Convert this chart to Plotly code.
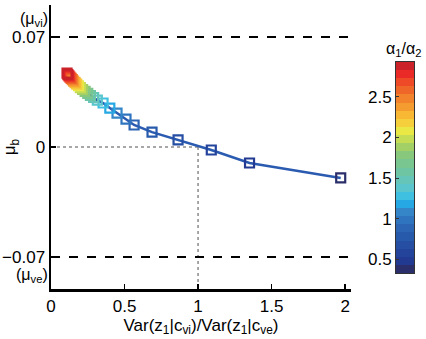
import plotly.graph_objects as go

# --- data ---
ratio = [0.35, 0.45, 0.55, 0.65, 0.75, 0.85, 0.95, 1.05, 1.15, 1.25,
         1.35, 1.45, 1.55, 1.65, 1.75, 1.85, 1.95, 2.05, 2.15, 2.25,
         2.35, 2.45, 2.55, 2.65, 2.75, 2.85, 2.9]
var_ratio = [1.97, 1.35, 1.09, 0.864, 0.687, 0.565, 0.51, 0.449, 0.40, 0.354,
             0.315, 0.29, 0.268, 0.25, 0.232, 0.215, 0.20, 0.187, 0.175, 0.164,
             0.154, 0.145, 0.137, 0.129, 0.122, 0.115, 0.109]
mu_b = [-0.0197, -0.0102, -0.0019, 0.0045, 0.0095, 0.0140, 0.0178, 0.0216, 0.0248, 0.0280,
        0.0298, 0.0315, 0.0328, 0.0342, 0.0354, 0.0366, 0.0378, 0.0390, 0.0400, 0.0410,
        0.0420, 0.0429, 0.0437, 0.0445, 0.0453, 0.0461, 0.0470]

mu_vi = 0.07
mu_ve = -0.07
x_ticks = [0, 0.5, 1, 1.5, 2]
x_ticktext = ["0", "0.5", "1", "1.5", "2"]
y_ticks = [-0.07, 0, 0.07]
y_ticktext = ["\u22120.07", "0", "0.07"]
cb_ticks = [0.5, 1, 1.5, 2, 2.5]
cb_ticktext = ["0.5", "1", "1.5", "2", "2.5"]

# discrete colour levels of the colorbar (bottom to top)
cb_min, cb_max = 0.33, 2.93
level_colors = ["#2a2e6a", "#233a92", "#24449b", "#264fa4", "#285aac", "#2b65b4",
                "#2f74bf", "#3486c9", "#25a8e3", "#40c0e0", "#5ac5cc", "#64c5b8",
                "#6ec5a4", "#7ac690", "#88c87c", "#a3d066", "#c5dc55", "#e9e845",
                "#f6cf3c", "#f8b834", "#f59c30", "#f2822c", "#ef6629", "#ee4a28",
                "#ea2a27", "#cb2128"]
n = len(level_colors)
colorscale = []
for i, c in enumerate(level_colors):
    colorscale.append([i / n, c])
    colorscale.append([(i + 1) / n, c])
step = (cb_max - cb_min) / n
level_centers = [cb_min + step * (i + 0.5) for i in range(n)]

FONT = "Liberation Sans, Arial, Helvetica, sans-serif"

fig = go.Figure()

# connecting line
fig.add_trace(go.Scatter(x=var_ratio, y=mu_b, mode="lines",
                         line=dict(color="#2a5bb0", width=2.5),
                         showlegend=False, hoverinfo="skip"))
# coloured markers
fig.add_trace(go.Scatter(x=var_ratio, y=mu_b, mode="markers",
                         marker=dict(symbol="square-open", size=9,
                                     color=ratio, colorscale=colorscale,
                                     cmin=cb_min, cmax=cb_max,
                                     line=dict(width=2.2)),
                         showlegend=False))

# colorbar drawn as heatmap on its own axes
fig.add_trace(go.Heatmap(z=[[v] for v in level_centers], y=level_centers, x=[0],
                         colorscale=colorscale, zmin=cb_min, zmax=cb_max,
                         showscale=False, xaxis="x2", yaxis="y2", hoverinfo="skip"))

# reference lines
for yv in (mu_vi, mu_ve):
    fig.add_shape(type="line", xref="x domain", yref="y", x0=0, x1=1, y0=yv, y1=yv,
                  line=dict(color="black", width=2, dash="dash"))
fig.add_shape(type="line", xref="x", yref="y", x0=0, x1=1, y0=0, y1=0,
              line=dict(color="#8a8a8a", width=1.5, dash="dot"), layer="below")
fig.add_shape(type="line", xref="x", yref="y", x0=1, x1=1, y0=0, y1=-0.0905,
              line=dict(color="#8a8a8a", width=1.5, dash="dot"), layer="below")

# (mu_vi) and (mu_ve) labels
fig.add_annotation(x=0, xref="x domain", xanchor="right", xshift=-2,
                   y=mu_vi, yref="y", yshift=18, text="(\u03bc<sub>vi</sub>)",
                   showarrow=False, font=dict(size=16), borderpad=0)
fig.add_annotation(x=0, xref="x domain", xanchor="right", xshift=-2,
                   y=mu_ve, yref="y", yshift=-19, text="(\u03bc<sub>ve</sub>)",
                   showarrow=False, font=dict(size=16), borderpad=0)
# colorbar title
fig.add_annotation(x=0.5, xref="x2 domain", xanchor="center", xshift=-2,
                   y=1, yref="y2 domain", yanchor="bottom",
                   yshift=2, text="\u03b1<sub>1</sub>/\u03b1<sub>2</sub>",
                   showarrow=False, font=dict(size=16), borderpad=0)

W, H = 426, 339
ml, mr, mt, mb = 51, 12, 5, 50
pw = W - ml - mr
ph = H - mt - mb

fig.update_layout(
    width=W, height=H,
    margin=dict(l=ml, r=mr, t=mt, b=mb, autoexpand=False),
    paper_bgcolor="white", plot_bgcolor="white",
    font=dict(family=FONT, size=17, color="black"),
    xaxis=dict(domain=[0, 300 / pw], range=[0, 2.04], tickvals=x_ticks, ticktext=x_ticktext,
               showline=True, linecolor="black", linewidth=2.5, ticks="inside",
               ticklen=5, tickwidth=1.5, tickcolor="black", showgrid=False, zeroline=False,
               automargin=False,
               title=dict(text="Var(z<sub>1</sub>|c<sub>vi</sub>)/Var(z<sub>1</sub>|c<sub>ve</sub>)",
                          font=dict(size=17), standoff=4)),
    yaxis=dict(domain=[0, 1], range=[-0.0904, 0.0904], tickvals=y_ticks, ticktext=y_ticktext,
               showline=True, linecolor="black", linewidth=2.5, ticks="inside",
               ticklen=5, tickwidth=1.5, tickcolor="black", showgrid=False, zeroline=False,
               automargin=False,
               title=dict(text="\u03bc<sub>b</sub>", font=dict(size=17), standoff=0)),
    xaxis2=dict(domain=[(396 - ml) / pw, (414 - ml) / pw], anchor="y2", range=[-0.5, 0.5],
                showticklabels=False, ticks="", showgrid=False, zeroline=False,
                automargin=False,
                showline=True, mirror=True, linecolor="#333", linewidth=1),
    yaxis2=dict(domain=[(H - mb - 273) / ph, (H - mb - 62) / ph], anchor="x2",
                range=[cb_min, cb_max], side="left", tickvals=cb_ticks, ticktext=cb_ticktext,
                ticks="inside", ticklen=3, tickcolor="#333", showgrid=False, zeroline=False,
                automargin=False,
                showline=True, mirror=True, linecolor="#333", linewidth=1),
)

fig.write_html("out.html", config={"displayModeBar": False, "staticPlot": True},
               post_script="document.body.style.margin='0px';document.body.style.overflow='hidden';")
